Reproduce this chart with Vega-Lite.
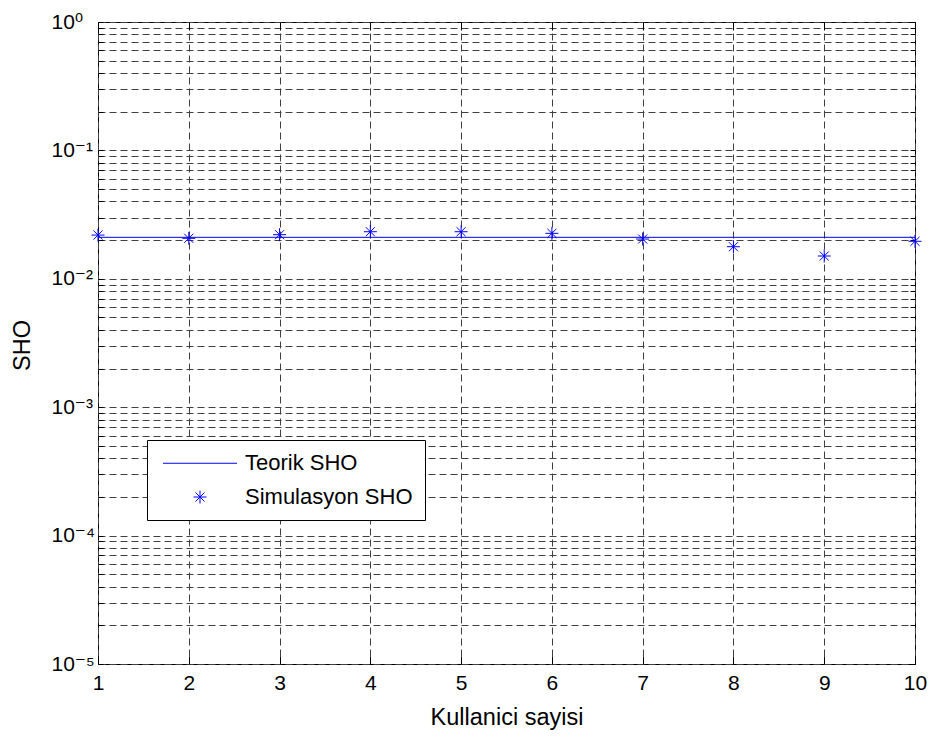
{
  "$schema": "https://vega.github.io/schema/vega-lite/v6.json",
  "width": 817,
  "height": 642,
  "autosize": "none",
  "padding": {"left": 98, "top": 22, "right": 17, "bottom": 74},
  "background": "#ffffff",
  "config": {
    "font": "Liberation Sans",
    "view": {"stroke": "#000000", "strokeWidth": 1},
    "axis": {
      "labelFont": "Liberation Sans, DejaVu Sans",
      "labelFontSize": 21,
      "labelColor": "#000000",
      "titleFont": "Liberation Sans",
      "titleFontSize": 23.5,
      "titleFontWeight": "normal",
      "titleColor": "#000000",
      "tickColor": "#000000",
      "domain": false
    }
  },
  "datasets": {
    "theory": [
      {"x": 1, "sho": 0.02104},
      {"x": 10, "sho": 0.02104}
    ],
    "sim": [
      {"x": 1, "sho": 0.0219, "series": "Simulasyon SHO"},
      {"x": 2, "sho": 0.02067, "series": "Simulasyon SHO"},
      {"x": 3, "sho": 0.02206, "series": "Simulasyon SHO"},
      {"x": 4, "sho": 0.02326, "series": "Simulasyon SHO"},
      {"x": 5, "sho": 0.02326, "series": "Simulasyon SHO"},
      {"x": 6, "sho": 0.0226, "series": "Simulasyon SHO"},
      {"x": 7, "sho": 0.0204, "series": "Simulasyon SHO"},
      {"x": 8, "sho": 0.01778, "series": "Simulasyon SHO"},
      {"x": 9, "sho": 0.01505, "series": "Simulasyon SHO"},
      {"x": 10, "sho": 0.01959, "series": "Simulasyon SHO"}
    ]
  },
  "layer": [
    {
      "data": {"name": "theory"},
      "mark": {"type": "line", "color": "#0000ff", "strokeWidth": 1},
      "encoding": {
        "x": {
          "field": "x", "type": "quantitative",
          "scale": {"domain": [1, 10], "nice": false, "zero": false},
          "axis": {
            "orient": "bottom",
            "title": "Kullanici sayisi",
            "titleBaseline": "middle",
            "titleY": 53,
            "values": [1, 2, 3, 4, 5, 6, 7, 8, 9, 10],
            "grid": true,
            "gridDash": [7, 4],
            "gridColor": "#404040",
            "gridWidth": 1,
            "ticks": true,
            "tickSize": -8,
            "labelPadding": 16,
            "labelFlush": false,
            "labelOverlap": false
          }
        },
        "y": {
          "field": "sho", "type": "quantitative",
          "scale": {"type": "log", "domain": [0.00001, 1], "nice": false},
          "axis": {
            "orient": "left",
            "title": "SHO",
            "titleX": -76,
            "titleY": 323,
            "titleBaseline": "middle",
            "values": [0.00001, 0.00002, 0.00003, 0.00004, 0.00005, 0.00006, 0.00007, 0.00008, 0.00009,
                       0.0001, 0.0002, 0.0003, 0.0004, 0.0005, 0.0006, 0.0007, 0.0008, 0.0009,
                       0.001, 0.002, 0.003, 0.004, 0.005, 0.006, 0.007, 0.008, 0.009,
                       0.01, 0.02, 0.03, 0.04, 0.05, 0.06, 0.07, 0.08, 0.09,
                       0.1, 0.2, 0.3, 0.4, 0.5, 0.6, 0.7, 0.8, 0.9, 1],
            "labelExpr": "datum.value == 1 ? '10⁰' : datum.value == 0.1 ? '10⁻¹' : datum.value == 0.01 ? '10⁻²' : datum.value == 0.001 ? '10⁻³' : datum.value == 0.0001 ? '10⁻⁴' : datum.value == 0.00001 ? '10⁻⁵' : ''",
            "labelAlign": "left",
            "labelBaseline": "middle",
            "labelPadding": 52,
            "labelFlush": false,
            "labelOverlap": false,
            "grid": true,
            "gridDash": [7, 4],
            "gridColor": "#404040",
            "gridWidth": 1,
            "ticks": true,
            "tickSize": -5
          }
        }
      }
    },
    {
      "data": {"name": "sim"},
      "mark": {"type": "point", "filled": false, "color": "#0000ff", "strokeWidth": 1, "size": 169, "opacity": 1},
      "encoding": {
        "x": {
          "field": "x", "type": "quantitative",
          "scale": {"domain": [1, 10], "nice": false, "zero": false},
          "axis": {
            "orient": "top",
            "title": null,
            "labels": false,
            "grid": false,
            "values": [1, 2, 3, 4, 5, 6, 7, 8, 9, 10],
            "ticks": true,
            "tickSize": -8
          }
        },
        "y": {
          "field": "sho", "type": "quantitative",
          "scale": {"type": "log", "domain": [0.00001, 1], "nice": false},
          "axis": {
            "orient": "right",
            "title": null,
            "labels": false,
            "grid": false,
            "values": [0.00001, 0.00002, 0.00003, 0.00004, 0.00005, 0.00006, 0.00007, 0.00008, 0.00009,
                       0.0001, 0.0002, 0.0003, 0.0004, 0.0005, 0.0006, 0.0007, 0.0008, 0.0009,
                       0.001, 0.002, 0.003, 0.004, 0.005, 0.006, 0.007, 0.008, 0.009,
                       0.01, 0.02, 0.03, 0.04, 0.05, 0.06, 0.07, 0.08, 0.09,
                       0.1, 0.2, 0.3, 0.4, 0.5, 0.6, 0.7, 0.8, 0.9, 1],
            "ticks": true,
            "tickSize": -5
          }
        },
        "shape": {
          "field": "series", "type": "nominal",
          "scale": {"domain": ["Teorik SHO", "Simulasyon SHO"], "range": ["M-5.7,0.04L5.7,0.04", "M-1,0L1,0M0,-1L0,1M-0.7,-0.7L0.7,0.7M-0.7,0.7L0.7,-0.7"]},
          "legend": {
            "orient": "none", "legendX": 49, "legendY": 418, "title": null,
            "padding": 12, "strokeColor": "#000000", "fillColor": "#ffffff", "cornerRadius": 0,
            "labelFont": "Liberation Sans", "labelFontSize": 22, "labelColor": "#000000", "labelLimit": 400,
            "symbolOffset": 30, "labelOffset": 34, "rowPadding": 12,
            "symbolStrokeWidth": 1, "symbolSize": 169, "symbolStrokeColor": "#0000ff", "symbolFillColor": "transparent"
          }
        }
      }
    }
  ],
  "resolve": {"axis": {"x": "independent", "y": "independent"}}
}
